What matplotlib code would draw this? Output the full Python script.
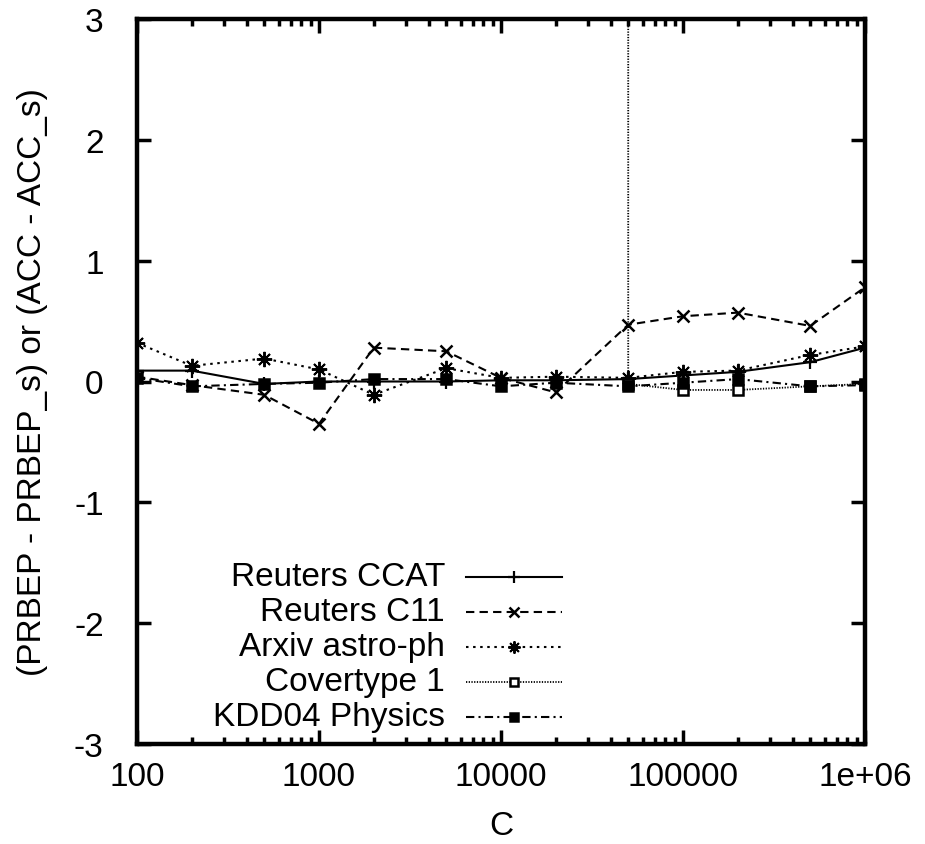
import matplotlib
matplotlib.use("Agg")
import matplotlib.pyplot as plt
from matplotlib.ticker import FixedLocator, LogLocator, NullFormatter, FixedFormatter

plt.rcParams['font.family'] = ['Liberation Sans', 'DejaVu Sans']
plt.rcParams['axes.unicode_minus'] = False

C = [100, 200, 500, 1000, 2000, 5000, 10000, 20000, 50000, 100000, 200000, 500000, 1000000]
reuters_ccat = [0.09, 0.09, -0.02, 0.0, 0.0, 0.0, 0.01, 0.01, 0.02, 0.05, 0.08, 0.16, 0.28]
reuters_c11 = [0.04, -0.03, -0.11, -0.35, 0.28, 0.25, 0.03, -0.09, 0.47, 0.54, 0.57, 0.46, 0.78]
arxiv = [0.32, 0.13, 0.19, 0.10, -0.11, 0.11, 0.03, 0.04, 0.03, 0.08, 0.09, 0.22, 0.29]
C_cov = [50000, 50000, 100000, 200000, 500000, 1000000]
covertype = [20.0, -0.02, -0.07, -0.07, -0.04, -0.02]
kdd04 = [0.03, -0.04, -0.02, -0.01, 0.02, 0.02, -0.04, -0.01, -0.04, -0.01, 0.02, -0.04, -0.03]

labels = ["Reuters CCAT", "Reuters C11", "Arxiv astro-ph", "Covertype 1", "KDD04 Physics"]
xticks = [100, 1000, 10000, 100000, 1000000]
xticklabels = ["100", "1000", "10000", "100000", "1e+06"]
yticks = [-3, -2, -1, 0, 1, 2, 3]

W, H = 925, 845
fig = plt.figure(figsize=(W / 100, H / 100), dpi=100)
L, R, T, B = 137, 865, 20, 745
ax = fig.add_axes([L / W, 1 - B / H, (R - L) / W, (B - T) / H])

FS = 24
lw = 1.5
asterisk = (8, 2, 0)
styles = [
    dict(ls='-', marker='+', mfc='none', ms=10, mew=1.6),
    dict(ls=(0, (4, 2.5)), marker='x', mfc='none', ms=9, mew=1.8),
    dict(ls=(0, (1.2, 2.2)), marker=asterisk, mfc='none', ms=11, mew=1.4),
    dict(ls=(0, (0.7, 0.8)), marker='s', mfc='white', lw=1.3, ms=7.5, mew=1.8),
    dict(ls=(0, (4, 2, 1, 2)), marker='s', mfc='black', ms=7.5, mew=1.8),
]
series = [(C, reuters_ccat), (C, reuters_c11), (C, arxiv), (C_cov, covertype), (C, kdd04)]

order = [3, 0, 1, 2, 4]
for i in order:
    xs, ys = series[i]
    st = styles[i]
    ax.plot(xs, ys, color='black', ls=st['ls'], lw=st.get('lw', lw),
            marker=st['marker'], ms=st['ms'], mfc=st['mfc'],
            mec='black', mew=st['mew'], clip_on=True, zorder=3 + i * 0.1)

ax.set_xscale('log')
ax.set_xlim(100, 1000000)
ax.set_ylim(-3, 3)
ax.xaxis.set_major_locator(FixedLocator(xticks))
ax.xaxis.set_major_formatter(FixedFormatter(xticklabels))
ax.xaxis.set_minor_locator(LogLocator(base=10, subs=range(2, 10)))
ax.xaxis.set_minor_formatter(NullFormatter())
ax.yaxis.set_major_locator(FixedLocator(yticks))
ax.tick_params(which='both', direction='in', top=True, right=True, labelsize=FS, width=2.5, colors='black')
ax.tick_params(which='major', length=10)
ax.tick_params(which='minor', length=5)
ax.tick_params(axis='x', which='major', pad=12)
ax.tick_params(axis='y', which='major', pad=24)
for s in ax.spines.values():
    s.set_linewidth(3.2)

ax.set_xlabel("C", fontsize=FS, labelpad=13)
ax.set_ylabel("(PRBEP - PRBEP_s) or (ACC - ACC_s)", fontsize=FS, labelpad=19)

# legend drawn gnuplot-style: right-aligned text, sample on the right
def ax_pt(px, py):
    return ((px - L) / (R - L), (B - py) / (B - T))

rows_y = [578, 613, 648, 683, 718]
for i, yy in enumerate(rows_y):
    st = styles[i]
    tx, ty = ax_pt(445, yy)
    ax.text(tx, ty, labels[i], transform=ax.transAxes, ha='right', va='center', fontsize=FS)
    x0, _ = ax_pt(466, yy)
    x1, _ = ax_pt(562, yy)
    xm, _ = ax_pt(514, yy)
    ax.plot([x0, x1], [ty, ty], transform=ax.transAxes, color='black', ls=st['ls'],
            lw=st.get('lw', lw), zorder=5)
    ax.plot([xm], [ty], transform=ax.transAxes, color='black', marker=st['marker'],
            ms=st['ms'] * 0.8, mfc=st['mfc'], mec='black', mew=st['mew'], zorder=6)

fig.savefig("out.png", dpi=100)
